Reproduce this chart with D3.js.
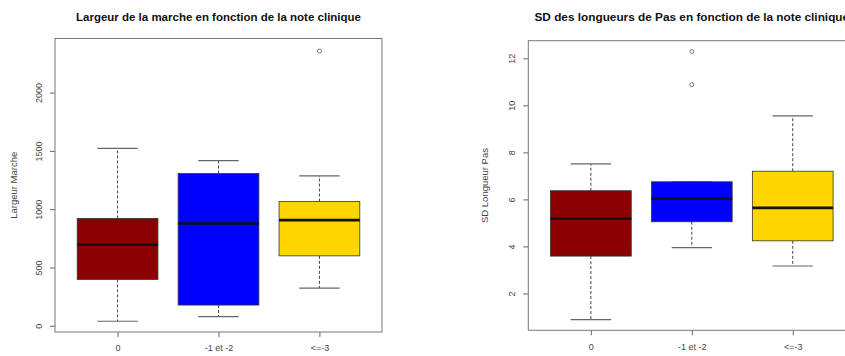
<!DOCTYPE html>
<html><head><meta charset="utf-8">
<script src="https://cdn.jsdelivr.net/npm/d3@7"></script>
<style>body{margin:0;background:#fff;}svg{display:block;font-family:"Liberation Sans",Arial,sans-serif;}</style>
</head><body>
<svg id="c" width="845" height="356"></svg>
<script>
const categories = ["0", "-1 et -2", "<=-3"];
const colors = ["#8B0000", "#0000FF", "#FFD700"];

const largeurLow = [43, 82, 328];
const largeurQ1 = [402, 182, 604];
const largeurMed = [699, 882, 910];
const largeurQ3 = [925, 1310, 1070];
const largeurHigh = [1526, 1421, 1290];
const largeurOut = [[], [], [2360]];
const largeurTicks = [0, 500, 1000, 1500, 2000];

const sdLow = [0.91, 3.97, 3.19];
const sdQ1 = [3.61, 5.07, 4.26];
const sdMed = [5.20, 6.06, 5.66];
const sdQ3 = [6.39, 6.77, 7.22];
const sdHigh = [7.53, 6.77, 9.57];
const sdOut = [[], [12.31, 10.90], []];
const sdTicks = [2, 4, 6, 8, 10, 12];

const svg = d3.select("#c");

function panel(o) {
  const g = svg.append("g");
  const x = d3.scaleLinear().domain([0.38, 3.62]).range([o.left, o.left + 327]);
  const y = d3.scaleLinear().domain(o.ydom).range([o.bottom, o.top]);
  g.append("text").attr("x", o.left + 163.5).attr("y", 21).attr("text-anchor", "middle")
    .attr("font-weight", "bold").attr("font-size", o.titleSize).attr("fill", "#111").text(o.title);
  g.append("text").attr("transform", `translate(${o.left - o.labOff},${(o.top + o.bottom) / 2}) rotate(-90)`)
    .attr("text-anchor", "middle").attr("font-size", "9.5px").attr("fill", "#444").text(o.ylab);
  o.ticks.forEach(d => {
    g.append("line").attr("x1", o.left - 5).attr("x2", o.left).attr("y1", y(d)).attr("y2", y(d)).attr("stroke", "#666");
    g.append("text").attr("transform", `translate(${o.left - 16},${y(d)}) rotate(-90)`)
      .attr("text-anchor", "middle").attr("dy", "0.35em").attr("font-size", "9px").attr("fill", "#444")
      .text(d3.format("d")(d));
  });
  const xa = d3.axisBottom(x).tickValues([1, 2, 3]).tickSize(5).tickPadding(8).tickFormat((d) => categories[d - 1]);
  const xg = g.append("g").attr("transform", `translate(0,${o.bottom})`).call(xa);
  xg.select(".domain").remove();
  xg.selectAll(".tick line").attr("stroke", "#666");
  xg.selectAll(".tick text").attr("font-size", "9px").attr("fill", "#444");
  g.append("rect").attr("x", o.left).attr("y", o.top).attr("width", 327).attr("height", o.bottom - o.top)
    .attr("fill", "none").attr("stroke", "#777").attr("stroke-width", 1);
  categories.forEach((c, i) => {
    const cx = x(i + 1), bw = x(1.4) - x(1), sw = x(1.2) - x(1);
    g.append("line").attr("x1", cx).attr("x2", cx).attr("y1", y(o.q3[i])).attr("y2", y(o.high[i]))
      .attr("stroke", "#444").attr("stroke-dasharray", "3,2");
    g.append("line").attr("x1", cx).attr("x2", cx).attr("y1", y(o.q1[i])).attr("y2", y(o.low[i]))
      .attr("stroke", "#444").attr("stroke-dasharray", "3,2");
    g.append("line").attr("x1", cx - sw).attr("x2", cx + sw).attr("y1", y(o.high[i])).attr("y2", y(o.high[i]))
      .attr("stroke", "#666").attr("stroke-width", 1.2);
    g.append("line").attr("x1", cx - sw).attr("x2", cx + sw).attr("y1", y(o.low[i])).attr("y2", y(o.low[i]))
      .attr("stroke", "#666").attr("stroke-width", 1.2);
    g.append("rect").attr("x", cx - bw).attr("width", 2 * bw).attr("y", y(o.q3[i]))
      .attr("height", y(o.q1[i]) - y(o.q3[i])).attr("fill", colors[i]).attr("stroke", "#333").attr("stroke-width", 0.8);
    g.append("line").attr("x1", cx - bw).attr("x2", cx + bw).attr("y1", y(o.med[i])).attr("y2", y(o.med[i]))
      .attr("stroke", "#111").attr("stroke-width", 2.6);
    o.out[i].forEach(v => {
      g.append("circle").attr("cx", cx).attr("cy", y(v)).attr("r", 2).attr("fill", "none").attr("stroke", "#777");
    });
  });
}

panel({left: 55, top: 38.5, bottom: 332, ydom: [-49, 2468], ticks: largeurTicks, labOff: 38, titleSize: "11.5px",
  title: "Largeur de la marche en fonction de la note clinique", ylab: "Largeur Marche",
  low: largeurLow, q1: largeurQ1, med: largeurMed, q3: largeurQ3, high: largeurHigh, out: largeurOut});
panel({left: 528.3, top: 40.7, bottom: 330.3, ydom: [0.455, 12.77], ticks: sdTicks, labOff: 40, titleSize: "11.8px",
  title: "SD des longueurs de Pas en fonction de la note clinique", ylab: "SD Longueur Pas",
  low: sdLow, q1: sdQ1, med: sdMed, q3: sdQ3, high: sdHigh, out: sdOut});
</script>
</body></html>
